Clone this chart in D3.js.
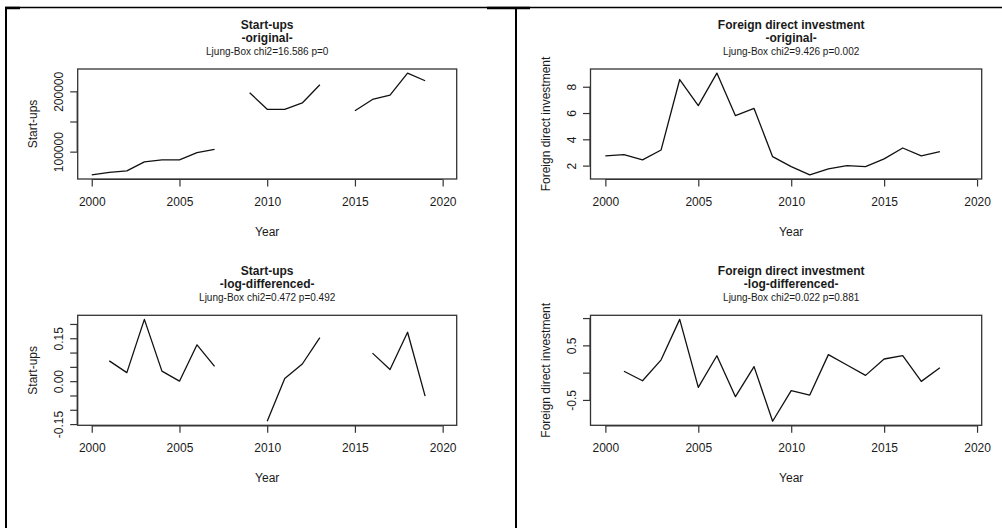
<!DOCTYPE html>
<html>
<head>
<meta charset="utf-8">
<script src="https://cdn.jsdelivr.net/npm/d3@7"></script>
<style>
  html, body { margin: 0; padding: 0; background: #fff; }
  svg { display: block; font-family: "Liberation Sans", Arial, sans-serif; }
</style>
</head>
<body>
<svg id="chart" width="1002" height="528"></svg>
<script>
// Annual series
const startYears = [2000, 2001, 2002, 2003, 2004, 2005, 2006, 2007, 2008, 2009,
                    2010, 2011, 2012, 2013, 2014, 2015, 2016, 2017, 2018, 2019];
const startups = [61400, 65700, 68000, 83000, 86300, 86500, 98300, 103800, null, 197800,
                  170200, 170200, 180700, 211000, null, 167900, 186600, 193800, 230300, 217600];
const startupsLogDiff = [null, 0.071, 0.030, 0.216, 0.035, 0.000, 0.127, 0.052, null, null,
                         -0.140, 0.009, 0.060, 0.152, null, null, 0.098, 0.041, 0.171, -0.052];

const fdiYears = [2000, 2001, 2002, 2003, 2004, 2005, 2006, 2007, 2008, 2009,
                  2010, 2011, 2012, 2013, 2014, 2015, 2016, 2017, 2018];
const fdi = [2.74, 2.84, 2.43, 3.19, 8.55, 6.56, 9.04, 5.80, 6.35, 2.68,
             1.92, 1.29, 1.75, 2.00, 1.92, 2.51, 3.34, 2.74, 3.06];
const fdiLogDiff = [null, 0.026, -0.148, 0.235, 0.976, -0.27, 0.31, -0.44, 0.11, -0.89,
                    -0.33, -0.41, 0.33, 0.14, -0.05, 0.25, 0.31, -0.16, 0.09];

// Axis ticks and their labels ("" = tick without label)
const yearTicks = [2000, 2005, 2010, 2015, 2020];
const yearTickLabels = ["2000", "2005", "2010", "2015", "2020"];
const startupsTicks = [100000, 150000, 200000];
const startupsTickLabels = ["100000", "", "200000"];
const startupsLdTicks = [-0.15, -0.10, -0.05, 0.00, 0.05, 0.10, 0.15, 0.20];
const startupsLdTickLabels = ["-0.15", "", "", "0.00", "", "", "0.15", ""];
const fdiTicks = [2, 4, 6, 8];
const fdiTickLabels = ["2", "4", "6", "8"];
const fdiLdTicks = [-0.5, 0.0, 0.5, 1.0];
const fdiLdTickLabels = ["-0.5", "", "0.5", ""];

// Panel titles
const titles = [
  { name: "Start-ups", sub: "-original-", test: "Ljung-Box chi2=16.586 p=0" },
  { name: "Foreign direct investment", sub: "-original-", test: "Ljung-Box chi2=9.426 p=0.002" },
  { name: "Start-ups", sub: "-log-differenced-", test: "Ljung-Box chi2=0.472 p=0.492" },
  { name: "Foreign direct investment", sub: "-log-differenced-", test: "Ljung-Box chi2=0.022 p=0.881" }
];

const svg = d3.select("#chart");
const ink = "#1a1a1a";

// Outer frame of the composite
const frame = svg.append("g").attr("stroke", "#000").attr("fill", "none");
frame.append("line").attr("x1", 5).attr("x2", 1002).attr("y1", 7.5).attr("y2", 7.5).attr("stroke-width", 1.5);
frame.append("line").attr("x1", 5).attr("x2", 20).attr("y1", 8).attr("y2", 8).attr("stroke-width", 2.5);
frame.append("line").attr("x1", 487).attr("x2", 530).attr("y1", 8).attr("y2", 8).attr("stroke-width", 2.5);
frame.append("line").attr("x1", 6).attr("x2", 6).attr("y1", 7).attr("y2", 528).attr("stroke-width", 2);
frame.append("line").attr("x1", 516).attr("x2", 516).attr("y1", 7).attr("y2", 528).attr("stroke-width", 2);

// R-style axis range: data extent padded by 4% on both sides
function padded(values) {
  const [lo, hi] = d3.extent(values.filter(v => v != null));
  const pad = (hi - lo) * 0.04;
  return [lo - pad, hi + pad];
}

function panel(cfg) {
  const { box, xDomain, years, values, yTicks, yTickLabels, yTitle, title } = cfg;
  const g = svg.append("g");
  const x = d3.scaleLinear().domain(xDomain).range([box.x0, box.x1]);
  const y = d3.scaleLinear().domain(padded(values)).range([box.y1, box.y0]);

  // Series line, broken at missing years
  const pts = years.map((yr, i) => ({ yr, v: values[i] }));
  const line = d3.line()
    .defined(d => d.v != null)
    .x(d => x(d.yr))
    .y(d => y(d.v));
  g.append("path")
    .datum(pts)
    .attr("d", line)
    .attr("fill", "none")
    .attr("stroke", "#111")
    .attr("stroke-width", 1.3)
    .attr("stroke-linejoin", "round");

  // Plot box
  g.append("rect")
    .attr("x", box.x0).attr("y", box.y0)
    .attr("width", box.x1 - box.x0).attr("height", box.y1 - box.y0)
    .attr("fill", "none").attr("stroke", "#333").attr("stroke-width", 1.3);

  // Bottom axis
  const xAxis = d3.axisBottom(x)
    .tickValues(yearTicks)
    .tickFormat((d, i) => yearTickLabels[i])
    .tickSize(7)
    .tickPadding(11);
  const xa = g.append("g").attr("transform", `translate(0,${box.y1 + 0.5})`).call(xAxis);
  xa.select(".domain").attr("d", `M${x(yearTicks[0])},0H${x(yearTicks[yearTicks.length - 1])}`)
    .attr("stroke", "#333").attr("stroke-width", 1.2);
  xa.selectAll(".tick line").attr("stroke", "#333").attr("stroke-width", 1.2);
  xa.selectAll(".tick text").attr("font-size", 12).attr("fill", ink)
    .attr("font-family", "Liberation Sans, Arial, sans-serif");

  // Left axis with labels written parallel to the axis
  const yAxis = d3.axisLeft(y)
    .tickValues(yTicks)
    .tickFormat((d, i) => yTickLabels[i])
    .tickSize(7);
  const ya = g.append("g").attr("transform", `translate(${box.x0 - 0.5},0)`).call(yAxis);
  ya.select(".domain").attr("d", `M0,${y(yTicks[0])}V${y(yTicks[yTicks.length - 1])}`)
    .attr("stroke", "#333").attr("stroke-width", 1.2);
  ya.selectAll(".tick line").attr("stroke", "#333").attr("stroke-width", 1.2);
  ya.selectAll(".tick text")
    .attr("font-size", 12).attr("fill", ink)
    .attr("font-family", "Liberation Sans, Arial, sans-serif")
    .attr("x", null).attr("dy", null)
    .attr("text-anchor", "middle")
    .attr("transform", "translate(-14,0) rotate(-90)");

  // Axis titles
  const cx = (x(yearTicks[0]) + x(yearTicks[yearTicks.length - 1])) / 2;
  g.append("text")
    .attr("x", cx).attr("y", box.y1 + 57)
    .attr("text-anchor", "middle").attr("font-size", 12).attr("fill", ink)
    .text("Year");
  g.append("text")
    .attr("transform", `translate(${box.x0 - 41},${(box.y0 + box.y1) / 2}) rotate(-90)`)
    .attr("text-anchor", "middle").attr("font-size", 12).attr("fill", ink)
    .text(yTitle);

  // Main title, subtitle and test statistic
  g.append("text")
    .attr("x", cx).attr("y", box.y0 - 40)
    .attr("text-anchor", "middle").attr("font-size", 12).attr("font-weight", "bold").attr("fill", ink)
    .text(title.name);
  g.append("text")
    .attr("x", cx).attr("y", box.y0 - 27)
    .attr("text-anchor", "middle").attr("font-size", 12).attr("font-weight", "bold").attr("fill", ink)
    .text(title.sub);
  g.append("text")
    .attr("x", cx).attr("y", box.y0 - 14)
    .attr("text-anchor", "middle").attr("font-size", 10).attr("fill", ink)
    .text(title.test);
}

const leftBox = { x0: 77.7, x1: 456.7 };
const rightBox = { x0: 590.5, x1: 981.7 };
const topRow = { y0: 69, y1: 179 };
const bottomRow = { y0: 315.3, y1: 425.3 };

panel({
  box: { ...leftBox, ...topRow }, xDomain: [1999.2, 2020.8],
  years: startYears, values: startups,
  yTicks: startupsTicks, yTickLabels: startupsTickLabels,
  yTitle: "Start-ups", title: titles[0]
});
panel({
  box: { ...rightBox, ...topRow }, xDomain: [1999.2, 2020.25],
  years: fdiYears, values: fdi,
  yTicks: fdiTicks, yTickLabels: fdiTickLabels,
  yTitle: "Foreign direct investment", title: titles[1]
});
panel({
  box: { ...leftBox, ...bottomRow }, xDomain: [1999.2, 2020.8],
  years: startYears, values: startupsLogDiff,
  yTicks: startupsLdTicks, yTickLabels: startupsLdTickLabels,
  yTitle: "Start-ups", title: titles[2]
});
panel({
  box: { ...rightBox, ...bottomRow }, xDomain: [1999.2, 2020.25],
  years: fdiYears, values: fdiLogDiff,
  yTicks: fdiLdTicks, yTickLabels: fdiLdTickLabels,
  yTitle: "Foreign direct investment", title: titles[3]
});
</script>
</body>
</html>
